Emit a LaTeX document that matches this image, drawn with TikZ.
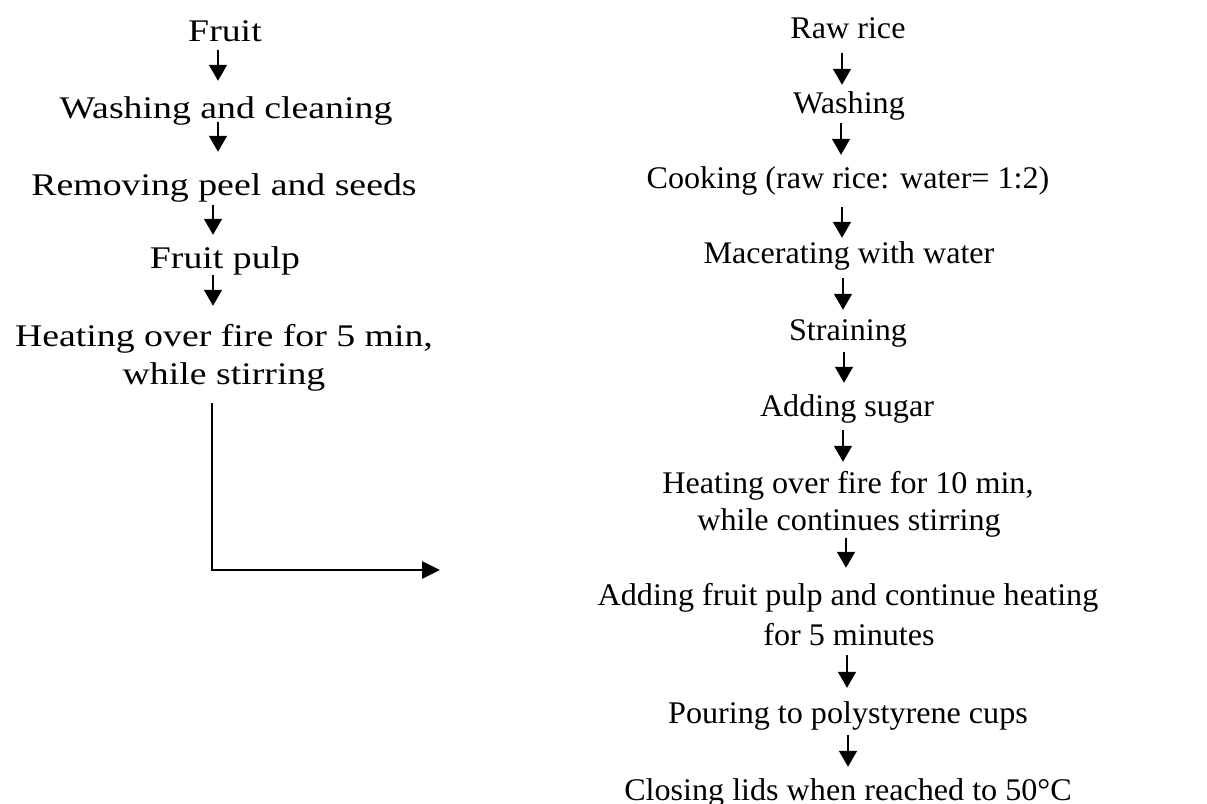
\documentclass[tikz,border=0pt]{standalone}
\usepackage{fontspec}
\setmainfont{Liberation Serif}
\newfontfamily\leftfont{Liberation Serif}[FakeStretch=1.2]
\newfontfamily\rightfont{Liberation Serif}[FakeStretch=1.02]
\usetikzlibrary{arrows.meta}
\begin{document}
\begin{tikzpicture}[x=1pt,y=-1pt,
  lt/.style={anchor=base,inner sep=0pt,text height=21pt,text depth=7pt,
    font=\leftfont\fontsize{31.5}{36}\selectfont},
  rt/.style={anchor=base,inner sep=0pt,text height=21pt,text depth=7pt,
    font=\rightfont\fontsize{31.5}{36}\selectfont},
  arr/.style={line width=1.4pt,-{Triangle[width=18pt,length=16pt]}},
  gap/.style 2 args={shorten <=#1pt,shorten >=#2pt},
  bigarr/.style={line width=2.6pt,-{Triangle[width=17pt,length=18pt]}}]
\useasboundingbox[fill=white] (0,0) rectangle (1207,803);
% left column
\node[lt] (fruit) at (225,41) {Fruit};
\node[lt] (wash) at (226,118) {Washing and cleaning};
\node[lt] (peel) at (224,195) {Removing peel and seeds};
\node[lt] (pulp) at (225,268) {Fruit pulp};
\node[lt] (heat) at (224,346) {Heating over fire for 5 min,};
\node[lt] (stir) at (224,384) {while stirring};
\coordinate (lend) at (440,570);
\draw[arr,gap={2}{16}] ([xshift=-7pt]fruit.south) -- ([xshift=-7pt]fruit.south |- wash.north);
\draw[arr,gap={-3}{22}] ([xshift=-8pt]wash.south) -- ([xshift=-8pt]wash.south |- peel.north);
\draw[arr,gap={3}{12}] ([xshift=-11pt]peel.south) -- ([xshift=-11pt]peel.south |- pulp.north);
\draw[arr,gap={0}{19}] ([xshift=-12pt]pulp.south) -- ([xshift=-12pt]pulp.south |- heat.north);
\draw[bigarr,shorten <=12pt] ([xshift=-12pt]stir.south) |- (lend);
% right column
\node[rt] (raw) at (848,38) {Raw rice};
\node[rt] (rwash) at (849,113) {Washing};
\node[rt] (cook) at (848,188) {Cooking (raw rice: water= 1:2)};
\node[rt] (mac) at (849,263) {Macerating with water};
\node[rt] (strain) at (848,340) {Straining};
\node[rt] (sugar) at (847,416) {Adding sugar};
\node[rt] (heat10) at (848,493) {Heating over fire for 10 min,};
\node[rt] (cont) at (849,530) {while continues stirring};
\node[rt] (addp) at (848,605) {Adding fruit pulp and continue heating};
\node[rt] (five) at (849,645) {for 5 minutes};
\node[rt] (pour) at (848,723) {Pouring to polystyrene cups};
\node[rt] (close) at (848,800) {Closing lids when reached to 50°C};
\draw[arr,gap={7.5}{7}] ([xshift=-6pt]raw.south) -- ([xshift=-6pt]raw.south |- rwash.north);
\draw[arr,gap={3}{12}] ([xshift=-8pt]rwash.south) -- ([xshift=-8pt]rwash.south |- cook.north);
\draw[arr,gap={12}{4}] ([xshift=-6pt]cook.south) -- ([xshift=-6pt]cook.south |- mac.north);
\draw[arr,gap={8}{9}] ([xshift=-6pt]mac.south) -- ([xshift=-6pt]mac.south |- strain.north);
\draw[arr,gap={5}{12}] ([xshift=-4pt]strain.south) -- ([xshift=-4pt]strain.south |- sugar.north);
\draw[arr,gap={7}{10}] ([xshift=-4pt]sugar.south) -- ([xshift=-4pt]sugar.south |- heat10.north);
\draw[arr,gap={1}{16}] ([xshift=-3pt]cont.south) -- ([xshift=-3pt]cont.south |- addp.north);
\draw[arr,gap={3}{14}] ([xshift=-2pt]five.south) -- ([xshift=-2pt]five.south |- pour.north);
\draw[arr,gap={5}{12}] ([xshift=0pt]pour.south) -- ([xshift=0pt]pour.south |- close.north);
\end{tikzpicture}
\end{document}
